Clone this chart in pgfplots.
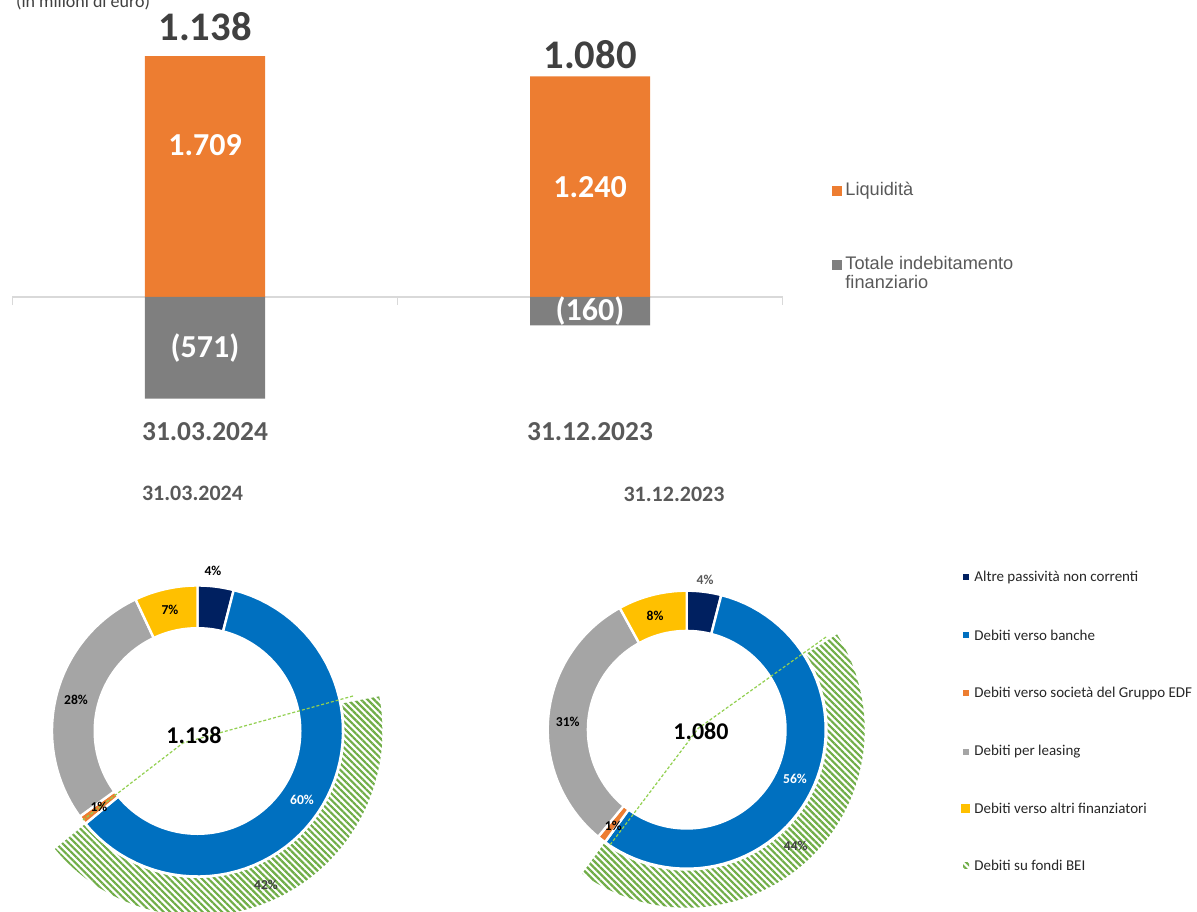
\documentclass[border=0pt]{standalone}
\usepackage{fontspec}
\setmainfont{Carlito}
\newfontfamily\arial{Liberation Sans}
\usepackage{pgfplots}
\pgfplotsset{compat=1.18}
\usepackage{pgfplotstable}
\usetikzlibrary{patterns.meta}

\definecolor{liqorange}{HTML}{ED7D31}
\definecolor{debtgray}{HTML}{7F7F7F}
\definecolor{navy}{HTML}{002060}
\definecolor{bankblue}{HTML}{0070C0}
\definecolor{leasegray}{HTML}{A5A5A5}
\definecolor{gold}{HTML}{FFC000}
\definecolor{beigreen}{HTML}{70AD47}
\definecolor{leadgreen}{HTML}{92D050}
\definecolor{txtdark}{HTML}{404040}
\definecolor{txtgray}{HTML}{595959}
\definecolor{axisgray}{HTML}{D9D9D9}

\newcommand\fs[1]{\fontsize{#1}{#1}\selectfont}

% composition of debt, in % (clockwise from 12 o'clock)
\pgfplotstableread{
pct colour
4  navy
60 bankblue
1  liqorange
28 leasegray
7  gold
}\donutA
\pgfplotstableread{
pct colour
4  navy
56 bankblue
1  liqorange
31 leasegray
8  gold
}\donutB

% one wedge per row, white gaps between them
\newcommand\drawring[2]{%
  \pgfplotstablegetrowsof{#1}%
  \pgfmathtruncatemacro\lastrow{\pgfplotsretval-1}%
  \gdef\cum{0}%
  \foreach \i in {0,...,\lastrow}{%
    \pgfplotstablegetelem{\i}{pct}\of{#1}\let\p\pgfplotsretval
    \pgfplotstablegetelem{\i}{colour}\of{#1}\let\c\pgfplotsretval
    \pgfmathsetmacro\aA{90-3.6*(\cum+\p)}%
    \pgfmathsetmacro\aB{90-3.6*\cum}%
    \pgfmathsetmacro\nextcum{\cum+\p}\xdef\cum{\nextcum}%
    \edef\seg{\noexpand\addplot[fill=\c, draw=white, line width=1.2pt,
        domain=\aA:\aB, samples=60, variable=\noexpand\t]
        ({#2*cos(\noexpand\t)},{#2*sin(\noexpand\t)}) -- (0,0) -- cycle;}%
    \seg
  }}
% BEI share: #1 % before it, #2 its %, #3 outer radius
\tikzset{bei/.style={pattern={Lines[angle=-45,distance=2.3pt,line width=1.1pt]}, pattern color=beigreen}}
\newcommand\drawbei[3]{%
  \pgfmathsetmacro\bA{90-3.6*(#1)}%
  \pgfmathsetmacro\bB{\bA+3.6*(#2)}%
  \edef\seg{\noexpand\addplot[draw=none, bei,
      domain=\bA:\bB, samples=80, variable=\noexpand\t]
      ({#3*cos(\noexpand\t)},{#3*sin(\noexpand\t)}) -- (0,0) -- cycle;}%
  \seg}

\begin{document}
\begin{tikzpicture}

% ---------- bars ----------
\begin{axis}[
  at={(6.25pt,253.6pt)}, anchor=south west,
  x=192.5pt, y=0.089pt,
  xmin=-0.5, xmax=1.5, ymin=-600, ymax=1350,
  hide axis, ybar, bar width=0.3117, bar shift=0pt,
  clip mode=individual,
]
  \draw[axisgray, line width=0.8pt] (-0.5,-45) -- (-0.5,0) -- (1.5,0) -- (1.5,-45);
  \draw[axisgray, line width=0.8pt] (0.5,0) -- (0.5,-45);
  \addplot[fill=liqorange, draw=none] coordinates {(0,1709) (1,1240)};
  \addplot[fill=debtgray, draw=none] coordinates {(0,-571) (1,-160)};
  \begin{scope}[font=\bfseries\fs{16}, text=white]
    \node at (0,854.5) {1.709};
    \node at (1,620) {1.240};
    \node at (0,-285) {(571)};
    \node at (1,-80) {(160)};
  \end{scope}
  \node[font=\bfseries\fs{20.3}, text=txtdark] at (0,1517) {1.138};
  \node[font=\bfseries\fs{20.3}, text=txtdark] at (1,1360) {1.080};
  \node[font=\bfseries\fs{13.7}, text=txtgray] at (0,-758) {31.03.2024};
  \node[font=\bfseries\fs{13.7}, text=txtgray] at (1,-758) {31.12.2023};
\end{axis}

% ---------- donut 31.03.2024 ----------
\begin{axis}[
  at={(98.75pt,90pt)}, anchor=origin,
  x=0.5pt, y=0.5pt, xmin=-200, xmax=200, ymin=-200, ymax=200,
  hide axis, clip=false,
]
  \drawbei{64}{42}{185}
  \fill[white] (0,0) circle[radius=147];
  \drawring{\donutA}{145.5}
  \fill[white] (0,0) circle[radius=104];
  \draw[leadgreen, dash pattern=on 1.5pt off 1pt, line width=0.6pt]
    (155.5,35) -- (-14.5,-12) -- (-114.5,-89);
  \begin{scope}[font=\bfseries\fs{6.8}]
    \node at (15.5,160) {4\%};
    \node at (-27.5,121) {7\%};
    \node at (-121.5,31) {28\%};
    \node at (-98.5,-76) {1\%};
    \node[text=white] at (104.5,-69) {60\%};
    \node[text=txtdark] at (68.5,-154) {42\%};
  \end{scope}
  \node[font=\bfseries\fs{12}] at (-3.5,-4) {1.138};
\end{axis}

% ---------- donut 31.12.2023 ----------
\begin{axis}[
  at={(343.35pt,90.65pt)}, anchor=origin,
  x=0.5pt, y=0.5pt, xmin=-200, xmax=200, ymin=-200, ymax=200,
  hide axis, clip=false,
]
  \drawbei{60}{44}{178}
  \fill[white] (0,0) circle[radius=141];
  \drawring{\donutB}{139}
  \fill[white] (0,0) circle[radius=100];
  \draw[leadgreen, dash pattern=on 1.5pt off 1pt, line width=0.6pt]
    (139.3,92.7) -- (11.6,1.4) -- (-76.7,-115.3);
  \begin{scope}[font=\bfseries\fs{6.8}]
    \node[text=txtgray] at (18.3,149.7) {4\%};
    \node at (-31.7,113.7) {8\%};
    \node at (-119,7.4) {31\%};
    \node at (-73.4,-96) {1\%};
    \node[text=white] at (108.3,-49.6) {56\%};
    \node[text=txtdark] at (109,-116.3) {44\%};
  \end{scope}
  \node[font=\bfseries\fs{12}] at (14.3,-2) {1.080};
\end{axis}

\begin{scope}[x=0.5pt,y=0.5pt]
\node[anchor=base west, font=\fs{9}, text=txtdark] at (9,903) {(in milioni di euro)};

% bar legend
\fill[liqorange] (832,715) rectangle (842,725);
\node[anchor=base west, font=\arial\fs{9.1}, text=txtgray, inner sep=0pt] at (845,715) {Liquidità};
\fill[debtgray] (832,641) rectangle (842,651);
\node[anchor=base west, font=\arial\fs{9.1}, text=txtgray, inner sep=0pt] at (845,641) {Totale indebitamento};
\node[anchor=base west, font=\arial\fs{9.1}, text=txtgray, inner sep=0pt] at (845,622) {finanziario};

% donut titles
\node[font=\bfseries\fs{11}, text=txtgray] at (192.5,418) {31.03.2024};
\node[font=\bfseries\fs{11}, text=txtgray] at (674,417) {31.12.2023};

% donut legend
\begin{scope}[font=\fs{7.5}, text=black!85]
  \fill[navy] (963,331) rectangle (969,337);
  \node[anchor=west, inner sep=0pt] at (974,334) {Altre passività non correnti};
  \fill[bankblue] (963,273) rectangle (969,279);
  \node[anchor=west, inner sep=0pt] at (974,276) {Debiti verso banche};
  \fill[liqorange] (963,215) rectangle (969,221);
  \node[anchor=west, inner sep=0pt] at (974,218) {Debiti verso società del Gruppo EDF};
  \fill[leasegray] (963,156) rectangle (969,162);
  \node[anchor=west, inner sep=0pt] at (974,159) {Debiti per leasing};
  \fill[gold] (961,98) rectangle (970,107);
  \node[anchor=west, inner sep=0pt] at (974,103) {Debiti verso altri finanziatori};
  \fill[bei] (963,43) rectangle (969,49);
  \node[anchor=west, inner sep=0pt] at (974,46) {Debiti su fondi BEI};
\end{scope}
\end{scope}

\pgfresetboundingbox
\useasboundingbox (0pt,0pt) rectangle (598.5pt,455.5pt);
\end{tikzpicture}
\end{document}
